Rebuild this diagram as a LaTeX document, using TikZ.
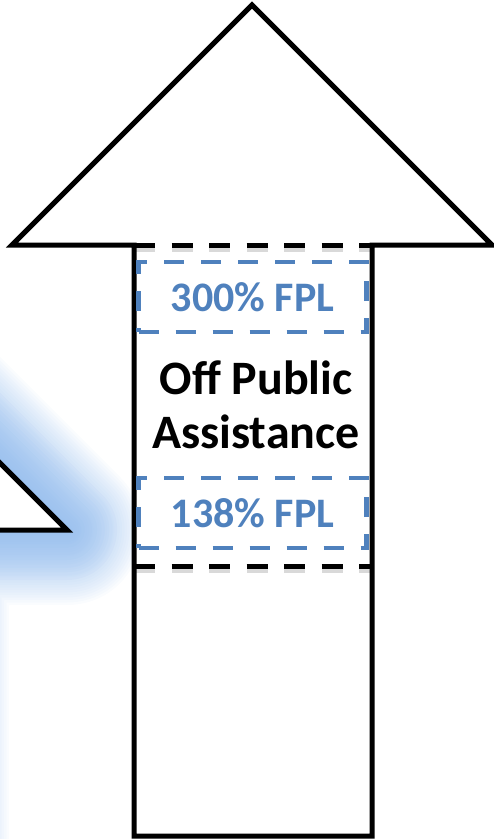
\documentclass[tikz,border=0pt]{standalone}
\usepackage{fontspec}
\setmainfont{Carlito}
\definecolor{fplblue}{HTML}{4F81BD}
\definecolor{glowblue}{HTML}{8DB8EC}
\begin{document}
\begin{tikzpicture}[x=1pt,y=-1pt,
  outl/.style={line width=5pt, draw=black, line join=miter},
  blkdash/.style={line width=5pt, draw=black, dash pattern=on 21pt off 16.5pt},
  dshadow/.style={line width=7pt, draw=black, opacity=0.15, dash pattern=on 21pt off 16.5pt},
  bluebox/.style={draw=fplblue, line width=4.5pt, dash pattern=on 20pt off 17pt, inner sep=0pt},
  fpl/.style={font=\fontsize{42}{50}\selectfont\bfseries, text=fplblue},
  mainlbl/.style={font=\fontsize{48}{54}\selectfont\bfseries, align=center, text=black}]
\useasboundingbox (0,0) rectangle (494,839);
% glowing neighbour arrow (partly off the picture)
\def\otherarrow{(-173,290) -- (67,530) -- (-66,530) -- (-66,950) -- (-300,950) -- (-300,530) -- (-413,530) -- cycle}
\foreach \w in {150,145,...,5}{
  \draw[glowblue, line width=\w pt, opacity=0.045, line join=round] \otherarrow;
}
\foreach \w in {100,92,...,4}{
  \draw[glowblue, line width=\w pt, opacity=0.05, line join=round] \otherarrow;
}
\fill[white] \otherarrow;
\draw[outl] \otherarrow;
% main arrow
\draw[outl, fill=white] (252,5) -- (492,245) -- (372,245) -- (372,836) -- (134,836) -- (134,245) -- (12,245) -- cycle;
% black dashed band
\coordinate (bt1) at (134,245); \coordinate (bt2) at (372,245);
\coordinate (bb1) at (134,566); \coordinate (bb2) at (372,566);
\draw[dshadow] ([yshift=-3pt]bt1) -- ([yshift=-3pt]bt2);
\draw[dshadow] ([yshift=-3pt]bb1) -- ([yshift=-3pt]bb2);
\draw[draw=white, line width=5.5pt] (137,245) -- (369,245);
\draw[blkdash] (bt1) -- (bt2);
\draw[blkdash] (bb1) -- (bb2);
% labels
\node[bluebox, minimum width=228pt, minimum height=70pt, fpl] (hi) at (252.5,297) {300\% FPL};
\node[mainlbl] (opa) at (256,405) {Off Public\\Assistance};
\node[bluebox, minimum width=228pt, minimum height=70pt, fpl] (lo) at (252.5,513) {138\% FPL};
\end{tikzpicture}
\end{document}
